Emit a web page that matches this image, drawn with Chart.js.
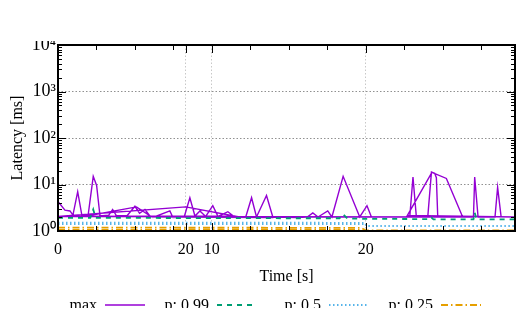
<!DOCTYPE html>
<html><head><meta charset="utf-8">
<script src="https://cdn.jsdelivr.net/npm/chart.js@4/dist/chart.umd.min.js"></script>
<style>html,body{margin:0;padding:0;overflow:hidden;background:#fff}#wrap{width:527px;height:317px;position:relative}</style>
</head><body><div id="wrap"><canvas id="c" width="527" height="317"></canvas></div>
<script>
const seriesNames = ['max', 'p: 0.99', 'p: 0.5', 'p: 0.25'];
const seriesColors = ['#9400d3', '#009e73', '#56b4e9', '#e69f00'];

// max latency (ms) — runs overlap, so the time axis goes back
const maxX = [0.05,0.45,0.78,0.97,1.28,1.56,1.95,2.29,2.51,2.73,3.3,3.55,3.81,4.5,5.0,5.3,5.65,5.97,6.17,7.27,7.47,8.2,8.57,8.9,9.22,9.6,10.06,10.4,11.04,11.4,
  0.0,8.3,11.8,12.2,12.58,12.9,13.55,13.96,15.5,16.2,16.56,16.9,17.53,17.8,18.53,19.61,20.08,20.37,22.86,23.07,23.29,24.03,24.27,24.48,24.59,24.68,25.5,27.0,27.08,27.3,28.4,28.57,28.8,29.7,
  22.7,24.3,25.24,26.3,
  1.7,5.1,6.1,14.0];
const maxY = [4.1,2.8,2.7,2.2,7.0,2.1,2.1,15,9.5,2.1,2.2,2.9,2.1,2.15,3.4,2.4,2.9,2.1,1.95,2.7,1.95,2.0,5.2,2.1,2.7,2.05,3.5,2.05,2.6,2.1,
  2.05,3.3,2.0,2.0,5.2,2.0,5.8,2.0,1.95,2.0,2.45,2.0,2.7,2.0,15,2.0,3.5,2.0,2.0,14.4,2.0,2.0,18.5,17.4,14,2.0,2.0,2.0,14.4,2.0,2.0,8.7,2.0,2.0,
  2.15,18.3,13.5,2.0,
  2.05,3.3,2.0,1.95];

const p99X = [0,2.1,2.29,2.45,8.3,15,18.3,18.53,18.8,20,24.2,24.27,24.4,27.0,27.08,27.2,29.7];
const p99Y = [1.92,1.92,2.9,1.92,1.9,1.88,1.88,2.3,1.86,1.83,1.8,1.95,1.78,1.78,2.5,1.78,1.78];

const p50X = [0,19.9,20.05,29.7,null,0,19.9];
const p50Y = [1.52,1.5,1.28,1.28,null,1.4,1.4];

const p25X = [0,19.7,20.0,29.7,null,0,19.7];
const p25Y = [1.18,1.17,1.03,1.03,null,1.05,1.05];

const xTickValues = [0, 8.3, 10, 20];
const xTickLabels = ['0', '20', '10', '20'];
const xMinorTicks = [2.5, 5, 7.5, 12.5, 15, 17.5, 22.5, 25, 27.5];
const yTickValues = [1, 10, 100, 1000, 10000];
const yTickLabels = ['10⁰', '10¹', '10²', '10³', '10⁴'];

function pts(xs, ys) { return xs.map((x, i) => ({x: x, y: ys[i]})); }

const FONT = 'Liberation Serif';
const dashes = [[], [5, 5], [1.5, 2.5], [7, 3, 1.5, 3]];
const widths = [1.4, 1.8, 1.8, 1.8];
const seriesData = [pts(maxX, maxY), pts(p99X, p99Y), pts(p50X, p50Y), pts(p25X, p25Y)];

const decor = {
  id: 'decor',
  afterDraw(chart) {
    const ctx = chart.ctx, a = chart.chartArea, xs = chart.scales.x, ys = chart.scales.y;
    ctx.save();
    ctx.strokeStyle = '#000'; ctx.lineWidth = 1;
    for (let d = 0; d <= 4; d++) {
      for (let k = 1; k <= 9; k++) {
        if (d === 4 && k > 1) break;
        const py = Math.round(ys.getPixelForValue(k * Math.pow(10, d))) + 0.5;
        const len = k === 1 ? 8 : 4;
        ctx.beginPath();
        ctx.moveTo(a.left, py); ctx.lineTo(a.left + len, py);
        ctx.moveTo(a.right, py); ctx.lineTo(a.right - len, py);
        ctx.stroke();
      }
    }
    const xt = xTickValues.map(v => [v, 8]).concat(xMinorTicks.map(v => [v, 5]));
    xt.forEach(([v, len]) => {
      const px = Math.round(xs.getPixelForValue(v)) + 0.5;
      ctx.beginPath();
      ctx.moveTo(px, a.bottom); ctx.lineTo(px, a.bottom - len);
      ctx.moveTo(px, a.top); ctx.lineTo(px, a.top + len);
      ctx.stroke();
    });
    ctx.lineWidth = 2;
    ctx.strokeRect(a.left, a.top, a.right - a.left, a.bottom - a.top);
    ctx.font = '16px "' + FONT + '"';
    ctx.textAlign = 'right'; ctx.textBaseline = 'alphabetic';
    chart.data.datasets.forEach((ds, i) => {
      const tx = 97 + i * 112;
      ctx.fillStyle = '#000';
      ctx.fillText(ds.label, tx, 310);
      ctx.strokeStyle = ds.borderColor; ctx.lineWidth = ds.borderWidth;
      ctx.setLineDash(ds.borderDash);
      ctx.beginPath(); ctx.moveTo(tx + 8, 305); ctx.lineTo(tx + 48, 305); ctx.stroke();
      ctx.setLineDash([]);
    });
    ctx.fillStyle = '#fff';
    ctx.fillRect(0, 0, chart.width, 41);
    ctx.fillRect(0, 308, chart.width, chart.height - 308);
    ctx.restore();
  }
};

new Chart(document.getElementById('c'), {
  type: 'scatter',
  data: {
    datasets: seriesNames.map((n, i) => ({
      label: n,
      data: seriesData[i],
      showLine: true,
      borderColor: seriesColors[i],
      backgroundColor: seriesColors[i],
      borderWidth: widths[i],
      borderDash: dashes[i],
      pointRadius: 0,
      spanGaps: false,
      tension: 0,
      order: 4 - i
    }))
  },
  options: {
    responsive: false,
    animation: false,
    devicePixelRatio: 1,
    layout: {padding: {top: 45, right: 12, bottom: 31, left: 0}},
    plugins: {legend: {display: false}, tooltip: {enabled: false}},
    scales: {
      x: {
        type: 'linear', min: 0, max: 29.7,
        afterBuildTicks: s => { s.ticks = xTickValues.map(v => ({value: v})); },
        afterFit: s => { s.height = 55; },
        ticks: {callback: (v, i) => xTickLabels[i], font: {family: FONT, size: 16}, color: '#000', padding: 9, maxRotation: 0, autoSkip: false},
        grid: {color: c => (c.tick && c.tick.value > 0) ? '#c8c8c8' : 'rgba(0,0,0,0)', lineWidth: 1, drawTicks: false},
        border: {display: false, dash: [1.5, 2]},
        title: {display: true, text: 'Time [s]', font: {family: FONT, size: 16}, color: '#000', padding: {top: 0, bottom: 0}}
      },
      y: {
        type: 'logarithmic', min: 1, max: 10000,
        afterBuildTicks: s => { s.ticks = yTickValues.map(v => ({value: v})); },
        afterFit: s => { s.width = 58; },
        ticks: {callback: (v, i) => yTickLabels[i], font: {family: FONT, size: 18}, color: '#000', padding: 2, autoSkip: false},
        grid: {color: c => (c.tick && c.tick.value > 1 && c.tick.value < 10000) ? '#909090' : 'rgba(0,0,0,0)', lineWidth: 1, drawTicks: false},
        border: {display: false, dash: [1.5, 2]},
        title: {display: true, text: 'Latency [ms]', font: {family: FONT, size: 16}, color: '#000', padding: {top: 8, bottom: 0}}
      }
    }
  },
  plugins: [decor]
});
</script>
</body></html>
